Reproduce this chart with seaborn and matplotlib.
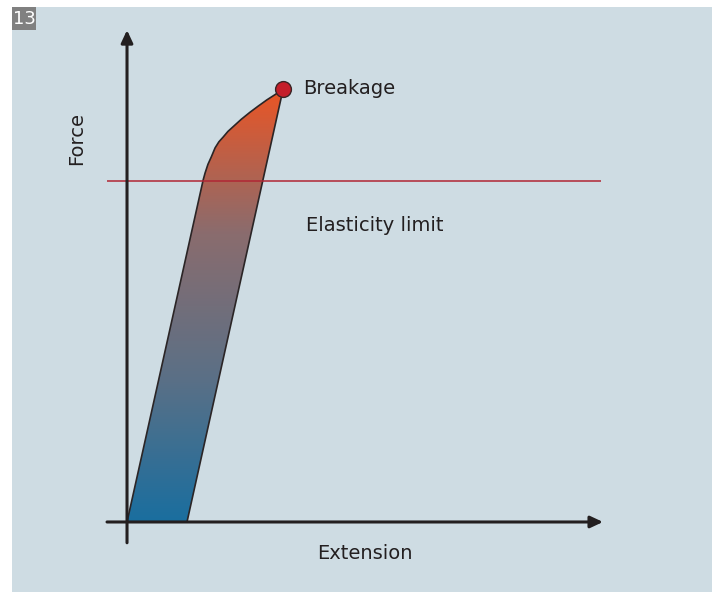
import numpy as np
import pandas as pd
import seaborn as sns
import matplotlib.pyplot as plt
from matplotlib.colors import LinearSegmentedColormap
from matplotlib.patches import Polygon, Rectangle

# loading curve (extension, force)
load_ext = [0.0, 1.60, 1.64, 1.70, 1.77, 1.85, 1.93, 2.02, 2.12, 2.23, 2.40, 2.58, 2.75, 2.94, 3.11, 3.28]
load_force = [0.0, 7.90, 8.06, 8.26, 8.43, 8.64, 8.78, 8.89, 9.02, 9.13, 9.30, 9.46, 9.60, 9.75, 9.87, 10.0]
# unloading line back to the extension axis
unload_ext = [3.28, 1.26]
unload_force = [10.0, 0.0]
elastic_limit = 7.88
x_axis = (-0.42, 10.0)
y_axis = (-0.48, 11.36)

bg = "#cedce3"
ink = "#231f20"

sns.set_style("white")
plt.rcParams["font.family"] = ["DejaVu Sans"]

fig = plt.figure(figsize=(7.19, 5.92), dpi=100)
fig.patch.set_facecolor("white")
fig.patches.append(Rectangle((12 / 719, 0), 700 / 719, 585 / 592, transform=fig.transFigure,
                             facecolor=bg, edgecolor="none", zorder=-10))
fig.patches.append(Rectangle((12 / 719, 562 / 592), 24 / 719, 23 / 592, transform=fig.transFigure,
                             facecolor="#808080", edgecolor="none", zorder=-5))
fig.text(24 / 719, 573 / 592, "13", color="white", fontsize=13, ha="center", va="center")

ax = fig.add_axes([50 / 719, 12 / 592, 570 / 719, 555 / 592])
ax.set_xlim(-1.618, 10.357)
ax.set_ylim(-1.340, 11.478)
ax.patch.set_alpha(0)
ax.axis("off")

# gradient filled region between loading and unloading paths
verts = list(zip(load_ext, load_force)) + list(zip(unload_ext[1:], unload_force[1:]))
poly = Polygon(verts, closed=True, facecolor="none", edgecolor="none")
ax.add_patch(poly)
cmap = LinearSegmentedColormap.from_list("grad", ["#1a6e9f", "#5b7086", "#8a6c6e", "#ea5525"])
grad = np.linspace(0, 1, 256).reshape(-1, 1)
img = ax.imshow(grad, cmap=cmap, origin="lower", aspect="auto",
                extent=(0, max(load_ext), 0, max(load_force)), zorder=1)
img.set_clip_path(poly)

outline = pd.DataFrame({"ext": load_ext + unload_ext[1:] + [0.0],
                        "force": load_force + unload_force[1:] + [0.0]})
sns.lineplot(data=outline, x="ext", y="force", sort=False, color="#2b2526", lw=1.2, ax=ax, zorder=2)

ax.hlines(elastic_limit, x_axis[0], 9.96, color="#b02634", lw=1.1, zorder=3)

arrow = dict(arrowstyle="-|>,head_length=0.75,head_width=0.35", lw=2.2, color=ink,
             shrinkA=0, shrinkB=0)
ax.annotate("", xy=(x_axis[1], 0), xytext=(x_axis[0], 0), arrowprops=arrow, zorder=4)
ax.annotate("", xy=(0, y_axis[1]), xytext=(0, y_axis[0]), arrowprops=arrow, zorder=4)

sns.scatterplot(x=[load_ext[-1]], y=[load_force[-1]], s=130, color="#c41e2a",
                edgecolor="#3a2526", linewidth=1.0, ax=ax, zorder=5)

ax.text(3.70, 10.02, "Breakage", fontsize=14, color=ink, va="center", ha="left")
ax.text(3.76, 6.84, "Elasticity limit", fontsize=14, color=ink, va="center", ha="left")
ax.text(5.0, -0.72, "Extension", fontsize=14, color=ink, va="center", ha="center")
ax.text(-1.05, 8.85, "Force", fontsize=14, color=ink, va="center", ha="center", rotation=90)

fig.savefig("out.png", dpi=100, facecolor=fig.get_facecolor())
